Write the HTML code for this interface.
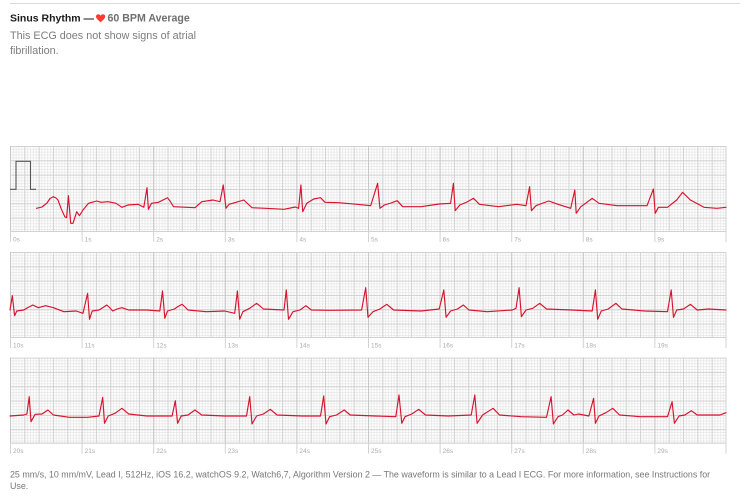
<!DOCTYPE html>
<html><head><meta charset="utf-8">
<style>
html,body{margin:0;padding:0;background:#fff;}
body{width:746px;height:501px;overflow:hidden;position:relative;font-family:"Liberation Sans",Arial,sans-serif;}
svg{position:absolute;left:0;top:0;}
</style></head>
<body>
<svg width="746" height="501" viewBox="0 0 746 501" xmlns="http://www.w3.org/2000/svg">
<defs>
<pattern id="minor" width="2.864" height="2.864" patternUnits="userSpaceOnUse">
<rect x="0" y="0" width="0.75" height="2.864" fill="#e6e6e6"/>
<rect x="0" y="0" width="2.864" height="0.75" fill="#e6e6e6"/>
</pattern>
<pattern id="major" width="14.32" height="14.32" patternUnits="userSpaceOnUse">
<rect x="0" y="0" width="1" height="14.32" fill="#d2d2d2"/>
<rect x="0" y="0" width="14.32" height="1" fill="#d2d2d2"/>
</pattern>
<pattern id="sec" width="71.6" height="86" patternUnits="userSpaceOnUse">
<rect x="0" y="0" width="1" height="86" fill="#c8c8c8"/>
</pattern>
<g id="grid">
<rect x="0" y="0" width="716" height="86" fill="#fff"/>
<rect x="0" y="0" width="716" height="86" fill="url(#minor)"/>
<rect x="0" y="0" width="716" height="86" fill="url(#major)"/>
<rect x="0" y="0" width="716" height="86" fill="url(#sec)"/>
<path d="M0 85.5H716.5M716 0V86" stroke="#d2d2d2" stroke-width="1" fill="none"/>
</g>
</defs>

<line x1="10" y1="3.5" x2="740" y2="3.5" stroke="#d9d9d9" stroke-width="1"/>

<text x="10" y="21.7" font-size="10.5" font-weight="bold" fill="#1a1a1a">Sinus Rhythm —</text>
<path d="M100.6 22.3 C 96.2 18.8, 95.4 16.8, 96.3 15.3 C 97.4 13.7, 99.6 14, 100.6 15.7 C 101.6 14, 103.8 13.7, 104.9 15.3 C 105.8 16.8, 105 18.8, 100.6 22.3 Z" fill="#ff3b30"/>
<text x="107.5" y="21.7" font-size="10.6" font-weight="bold" fill="#6f6f6f">60 BPM Average</text>
<text x="10" y="39" font-size="10.8" fill="#7d7d7d">This ECG does not show signs of atrial</text>
<text x="10" y="54" font-size="10.8" fill="#7d7d7d">fibrillation.</text>

<use href="#grid" x="10" y="146"/>
<use href="#grid" x="10" y="252"/>
<use href="#grid" x="10" y="357.6"/>

<g stroke="#d3d3d3" stroke-width="1">
<path d="M10.5 232V242M82.1 232V242M153.7 232V242M225.3 232V242M296.9 232V242M368.5 232V242M440.1 232V242M511.7 232V242M583.3 232V242M654.9 232V242M726 232V242"/>
<path d="M10.5 338V348M82.1 338V348M153.7 338V348M225.3 338V348M296.9 338V348M368.5 338V348M440.1 338V348M511.7 338V348M583.3 338V348M654.9 338V348M726 338V348"/>
<path d="M10.5 443.6V453.6M82.1 443.6V453.6M153.7 443.6V453.6M225.3 443.6V453.6M296.9 443.6V453.6M368.5 443.6V453.6M440.1 443.6V453.6M511.7 443.6V453.6M583.3 443.6V453.6M654.9 443.6V453.6M726 443.6V453.6"/>
</g>
<g font-size="6.5" fill="#ababab">
<text x="13" y="241.5">0s</text><text x="84.6" y="241.5">1s</text><text x="156.2" y="241.5">2s</text><text x="227.8" y="241.5">3s</text><text x="299.4" y="241.5">4s</text><text x="371" y="241.5">5s</text><text x="442.6" y="241.5">6s</text><text x="514.2" y="241.5">7s</text><text x="585.8" y="241.5">8s</text><text x="657.4" y="241.5">9s</text>
<text x="13" y="347.5">10s</text><text x="84.6" y="347.5">11s</text><text x="156.2" y="347.5">12s</text><text x="227.8" y="347.5">13s</text><text x="299.4" y="347.5">14s</text><text x="371" y="347.5">15s</text><text x="442.6" y="347.5">16s</text><text x="514.2" y="347.5">17s</text><text x="585.8" y="347.5">18s</text><text x="657.4" y="347.5">19s</text>
<text x="13" y="453">20s</text><text x="84.6" y="453">21s</text><text x="156.2" y="453">22s</text><text x="227.8" y="453">23s</text><text x="299.4" y="453">24s</text><text x="371" y="453">25s</text><text x="442.6" y="453">26s</text><text x="514.2" y="453">27s</text><text x="585.8" y="453">28s</text><text x="657.4" y="453">29s</text>
</g>

<polyline points="10,189.3 16,189.3 16,161.3 30.5,161.3 30.5,189.3 36,189.3" fill="none" stroke="#555" stroke-width="1.1"/>

<g fill="none" stroke="#d7142e" stroke-width="1.15" stroke-linejoin="round" stroke-linecap="round">
<polyline points="36.5,208.3 42,207 47,203 50,198.5 53.4,196.7 56,198 58,200 61,208.3 64.8,216.7 66.6,217.7 68.4,195.7 70.7,223.3 73,223.3 76.7,211.7 79.4,215.7 83,210 88.5,203.3 92,202.3 96.8,201 101,202.3 108,201.7 116,203.3 122,207.3 128,205 138,204.3 143.8,207.3 147,187.7 148.4,209.3 151.5,203.3 158.4,202.3 163,200 167.5,197.7 170,201 173.5,206.7 195,207.7 201.8,201.7 213,200 220,201.7 223.2,185 226,208.3 229,204.3 236,202.3 243.8,200 248,204 252,207.7 265.7,208.3 284,209.3 295.4,207 298.6,208.3 300.9,185 302.7,211.7 306.8,203.3 313.7,199 320.5,197.7 325,202.3 338.8,202.7 357,204.3 370.7,205.7 377.6,183.3 379.9,208.3 384.4,205 391,203 397.2,200.7 402.7,206.7 421,206.7 439.2,204 450.6,203.3 453.4,183.3 455.2,210.7 459.8,205 467,202 473.5,198.3 479.4,204.3 498.6,206.7 516.8,204.3 526,205.7 529.6,186.7 531.4,210.7 536,205.7 543,203 548.8,201 558,204.3 570.7,208.3 574.8,190 576.2,213.3 580.8,206.7 586,203 592.2,198.3 599,203.3 617.3,205.7 647,205.7 653.4,189 655.2,213.3 658.4,207.3 667.5,207.3 676.7,200 682.6,192.3 690.4,200 704,207.3 717,208.3 726,207.3"/>
<polyline points="10,310 12.3,295.7 14.6,315.7 16.8,311 23.7,310 28,307.5 32.8,305 38.3,307.7 45.6,305.7 53.4,307.7 63.9,311.7 76.2,311 83,313.3 87.6,293.3 89.5,319.3 92.2,311 99,310 103,307.5 106.8,305 110,308 112.7,311 117,309 121.9,307.7 128.7,310 147,310 159.8,311 162.5,291 164.8,318.3 167.5,311 174.4,309 178,306.5 182.1,304.3 185,307 188,310 206.3,311.7 224.6,311 234.7,313.3 237.4,291 239.7,319.3 242.9,311.7 249.7,308.3 256.6,303.3 260,306 263.4,309 284,310 286.3,290 288.5,319.3 293,311.7 300,310 305.9,305.7 311.4,310 329.6,310.3 361.6,310 365.7,287.7 368,317.3 373,311.7 379.9,309 386.7,304.3 390,307 393.6,310 421,311 439.2,309 443.8,290 446.1,317.3 450.6,311 457.5,309 463.4,305 468.9,310 487.2,311.7 512.3,310 516,308.3 519.1,287.7 521.4,316.7 526,310 532.8,308.3 539.7,303.3 546.5,309 571.6,310 592.2,311 595.4,290 597.7,319.3 601.3,311 608.2,309 615.9,303.3 621.9,309 644.7,311 667.5,311.7 671.2,290 673.5,317.3 676.7,310 683.5,309 690.4,304.3 697.2,310 708.6,309 726,310"/>
<polyline points="10,416 23.7,415 26.9,414 29.2,396.7 31,421.7 35.1,414.3 42,414 47.9,410 53.4,415 69.4,417.3 87.6,417.3 99,416 102.7,397.3 104.5,423.3 108.2,416 115,413.3 121.9,408.3 128.7,414 147,416 172.1,416 175.3,400.7 177.6,423.3 181.2,416 188,415 194.9,410 201.8,415 224.6,416 246.5,416 249.7,396.7 252,424 256.6,416 263.4,414 270.3,409.3 277.1,415 302.2,416 320.5,416 323.7,396 326,424 329.6,416.7 336.5,415 344.2,410 350.2,415 375.3,416 395.8,416.7 399,395 401.8,423.3 405,416.7 411.8,414 418.7,409.3 425.5,415 448.4,416 471.2,415 474.8,395 477.1,423.3 482.6,415 493.1,408.3 499.5,415 521.4,416.7 546.5,417.3 551.1,396.7 553.4,424 558,416.7 562.5,415 568,410 573.9,415 578.5,414 588.9,416 593.6,398.3 595.4,423.3 599,416 605.9,412.7 612.7,408.3 619.6,415 640.1,416.7 667.5,416.7 672.1,401.7 674.4,423.3 679,416 684.9,415 691.3,410.7 697.2,415 708.6,415 720,415 726,412.7"/>
</g>

<text x="10" y="477.5" font-size="8.9" fill="#777">25 mm/s, 10 mm/mV, Lead I, 512Hz, iOS 16.2, watchOS 9.2, Watch6,7, Algorithm Version 2 — The waveform is similar to a Lead I ECG. For more information, see Instructions for</text>
<text x="10" y="489" font-size="8.9" fill="#777">Use.</text>
</svg>
</body></html>
